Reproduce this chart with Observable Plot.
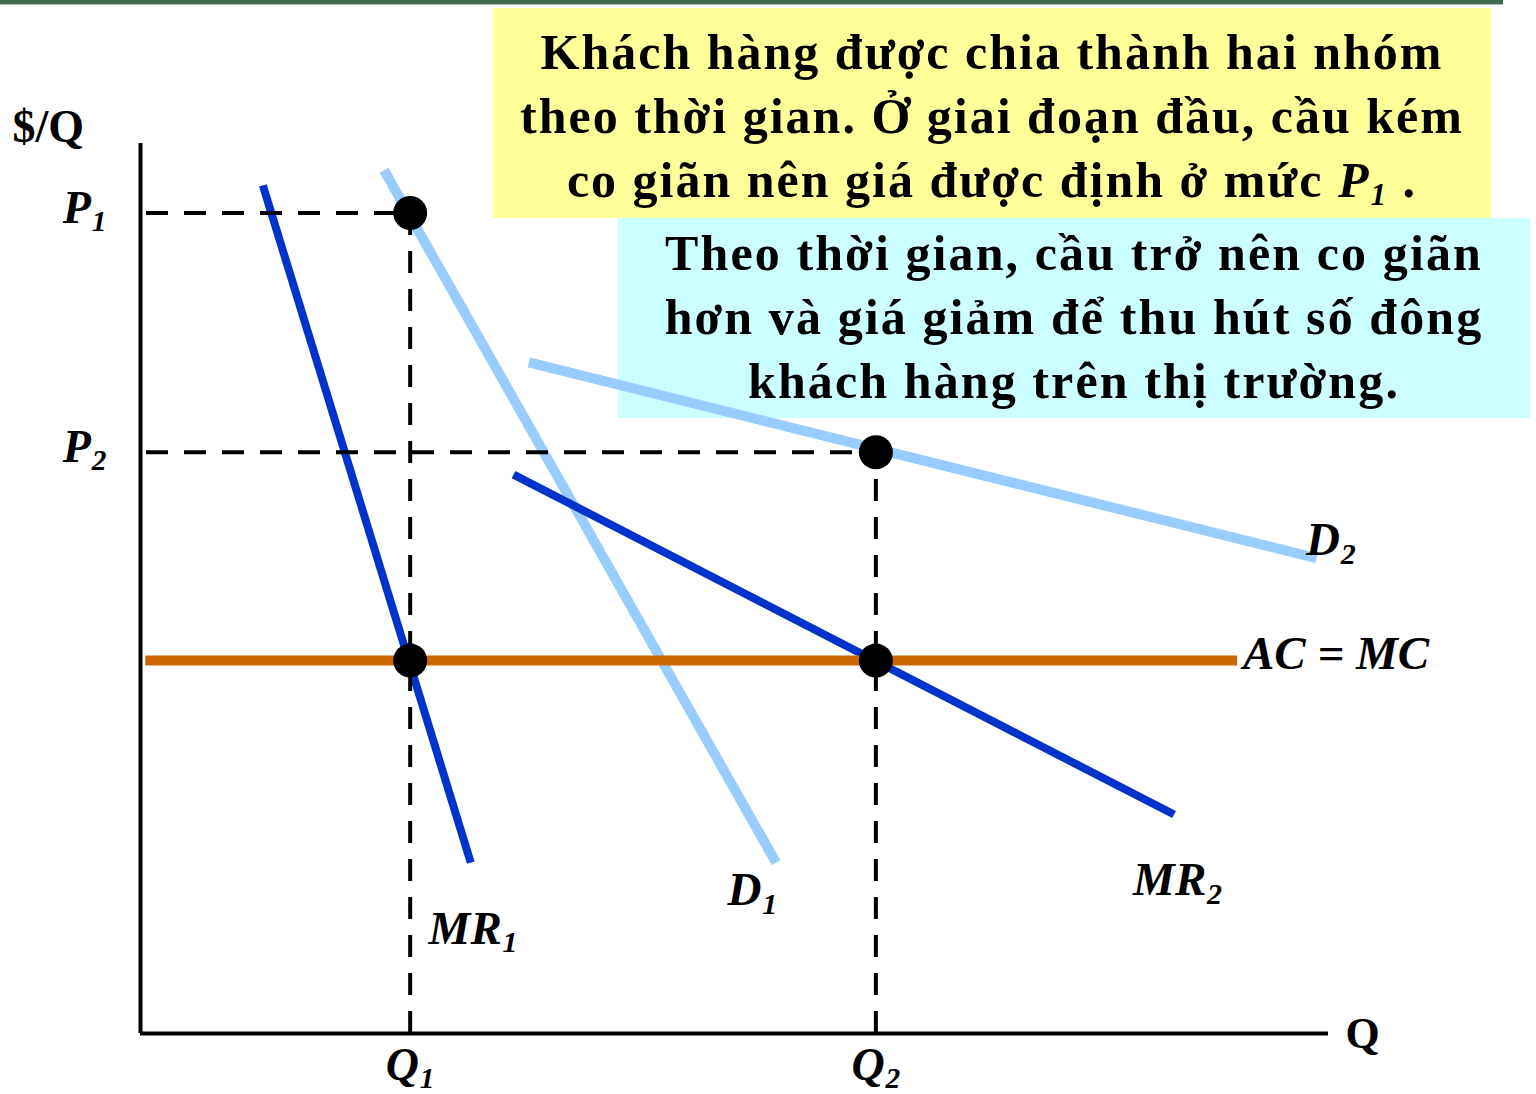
<!DOCTYPE html>
<html>
<head>
<meta charset="utf-8">
<script src="https://cdn.jsdelivr.net/npm/d3@7"></script>
<script src="https://cdn.jsdelivr.net/npm/@observablehq/plot@0.6"></script>
<style>
  html, body { margin: 0; padding: 0; background: #fff; }
  #wrap { position: relative; width: 1536px; height: 1094px; overflow: hidden; }
  .topbar { position: absolute; left: 0; top: 0; width: 1503px; height: 4px; background: #3d6a4c; border-bottom: 1px solid #a9c2b2; }
  .box { position: absolute; font-family: "Liberation Serif", "Times New Roman", serif; font-weight: bold; color: #000; text-align: center; box-sizing: border-box; white-space: nowrap; }
  #box1 { left: 493px; top: 8px; width: 998px; height: 210px; background: #ffff99; font-size: 50px; line-height: 64px; padding-top: 12px; letter-spacing: 2px; }
  #box2 { left: 618px; top: 218px; width: 912px; height: 200px; background: #ccffff; font-size: 50px; line-height: 64px; padding-top: 3px; letter-spacing: 2.1px; }
  .box sub { font-size: 0.62em; vertical-align: -0.25em; line-height: 0; }
  #chart { position: absolute; left: 0; top: 0; }
</style>
</head>
<body>
<div id="wrap">
  <div class="topbar"></div>
  <div class="box" id="box1">Khách hàng được chia thành hai nhóm<br>theo thời gian. Ở giai đoạn đầu, cầu kém<br>co giãn nên giá được định ở mức <i>P<sub>1</sub></i> .</div>
  <div class="box" id="box2">Theo thời gian, cầu trở nên co giãn<br>hơn và giá giảm để thu hút số đông<br>khách hàng trên thị trường.</div>
  <div id="chart"></div>
</div>
<script>
// Key quantities and prices (axis units 0–100)
const Q1 = 22.7, Q2 = 61.9;
const P1 = 92.2, P2 = 65.3;
const MC = 41.9;

// Curves (two end points each)
const d1Q = [20.5, 53.5],  d1P = [97.0, 19.2];
const mr1Q = [10.3, 27.8], mr1P = [95.3, 19.2];
const d2Q = [32.7, 99.0],  d2P = [75.4, 53.4];
const mr2Q = [31.4, 87.0], mr2P = [62.8, 24.6];
const mcQ = [0.4, 92.3];

// Equilibrium points
const dotQ = [Q1, Q2, Q1, Q2];
const dotP = [P1, P2, MC, MC];

// Curve labels
const labelText = ["D_2", "AC = MC", "MR_2", "D_1", "MR_1"];
const labelQ = [100.2, 92.8, 87.3, 51.5, 28.0];
const labelP = [55.4, 42.6, 17.2, 16.1, 11.8];
const labelAnchor = ["middle", "start", "middle", "middle", "middle"];

const tickQText = ["Q_1", "Q_2"];
const tickPText = ["P_1", "P_2"];

const pts = (qs, ps) => qs.map((q, i) => ({q, p: ps[i]}));
const dots = pts(dotQ, dotP);
const labels = labelText.map((t, i) => ({t, q: labelQ[i], p: labelP[i], a: labelAnchor[i]}));

const font = "Liberation Serif, Times New Roman, serif";
const darkBlue = "#0033cc", lightBlue = "#99ccff", orange = "#cc6600";
const dash = "22,16";

const chart = Plot.plot({
  width: 1536,
  height: 1094,
  marginLeft: 140,
  marginRight: 208,
  marginTop: 143,
  marginBottom: 61,
  style: {background: "transparent", overflow: "visible"},
  x: {domain: [0, 100], axis: null},
  y: {domain: [0, 100], axis: null},
  marks: [
    // axes
    Plot.ruleX([0], {y1: 0, y2: 100, stroke: "#000", strokeWidth: 4}),
    Plot.ruleY([0], {x1: 0, x2: 100, stroke: "#000", strokeWidth: 4}),
    // curves
    Plot.line(pts(d1Q, d1P), {x: "q", y: "p", stroke: lightBlue, strokeWidth: 10, strokeLinecap: "butt"}),
    Plot.line(pts(d2Q, d2P), {x: "q", y: "p", stroke: lightBlue, strokeWidth: 10, strokeLinecap: "butt"}),
    Plot.line(pts(mr1Q, mr1P), {x: "q", y: "p", stroke: darkBlue, strokeWidth: 8, strokeLinecap: "butt"}),
    Plot.line(pts(mr2Q, mr2P), {x: "q", y: "p", stroke: darkBlue, strokeWidth: 8, strokeLinecap: "butt"}),
    Plot.line(pts(mcQ, [MC, MC]), {x: "q", y: "p", stroke: orange, strokeWidth: 10, strokeLinecap: "butt"}),
    // dashed guides
    Plot.ruleY([P1], {x1: 0, x2: Q1, stroke: "#000", strokeWidth: 4, strokeDasharray: dash, strokeDashoffset: -6}),
    Plot.ruleY([P2], {x1: 0, x2: Q2, stroke: "#000", strokeWidth: 4, strokeDasharray: dash, strokeDashoffset: -6}),
    Plot.ruleX([Q1], {y1: 0, y2: P1, stroke: "#000", strokeWidth: 4, strokeDasharray: dash}),
    Plot.ruleX([Q2], {y1: 0, y2: P2, stroke: "#000", strokeWidth: 4, strokeDasharray: dash}),
    // points
    Plot.dot(dots, {x: "q", y: "p", r: 17, fill: "#000", stroke: "none"}),
    // tick labels
    Plot.text(tickQText, {x: [Q1, Q2], y: [0, 0], dy: 32, fontSize: 46, fontStyle: "italic", fontWeight: "bold", fontFamily: font, fill: "#000"}),
    Plot.text(tickPText, {x: [0, 0], y: [P1, P2], dx: -34, dy: -5, textAnchor: "end", fontSize: 46, fontStyle: "italic", fontWeight: "bold", fontFamily: font, fill: "#000"}),
    // axis titles
    Plot.text(["$/Q"], {frameAnchor: "top-left", lineAnchor: "middle", dx: -128, dy: -16, textAnchor: "start", fontSize: 46, fontWeight: "bold", fontFamily: font, fill: "#000"}),
    Plot.text(["Q"], {frameAnchor: "bottom-right", lineAnchor: "middle", dx: 17, dy: 0, textAnchor: "start", fontSize: 44, fontWeight: "bold", fontFamily: font, fill: "#000"}),
    // curve labels
    Plot.text(labels.filter(d => d.a === "middle"), {x: "q", y: "p", text: "t", textAnchor: "middle", fontSize: 47, fontStyle: "italic", fontWeight: "bold", fontFamily: font, fill: "#000"}),
    Plot.text(labels.filter(d => d.a === "start"), {x: "q", y: "p", text: "t", textAnchor: "start", fontSize: 47, fontStyle: "italic", fontWeight: "bold", fontFamily: font, fill: "#000"})
  ]
});

// Turn "X_n" into X with a subscript n
const NS = "http://www.w3.org/2000/svg";
chart.querySelectorAll("text").forEach(t => {
  const s = t.textContent;
  const i = s.indexOf("_");
  if (i < 0) return;
  t.textContent = "";
  const a = document.createElementNS(NS, "tspan");
  a.textContent = s.slice(0, i);
  const b = document.createElementNS(NS, "tspan");
  b.textContent = s.slice(i + 1);
  b.setAttribute("font-size", "0.64em");
  b.setAttribute("dy", "0.28em");
  b.setAttribute("dx", "0.03em");
  t.append(a, b);
});

document.getElementById("chart").appendChild(chart);
</script>
</body>
</html>
